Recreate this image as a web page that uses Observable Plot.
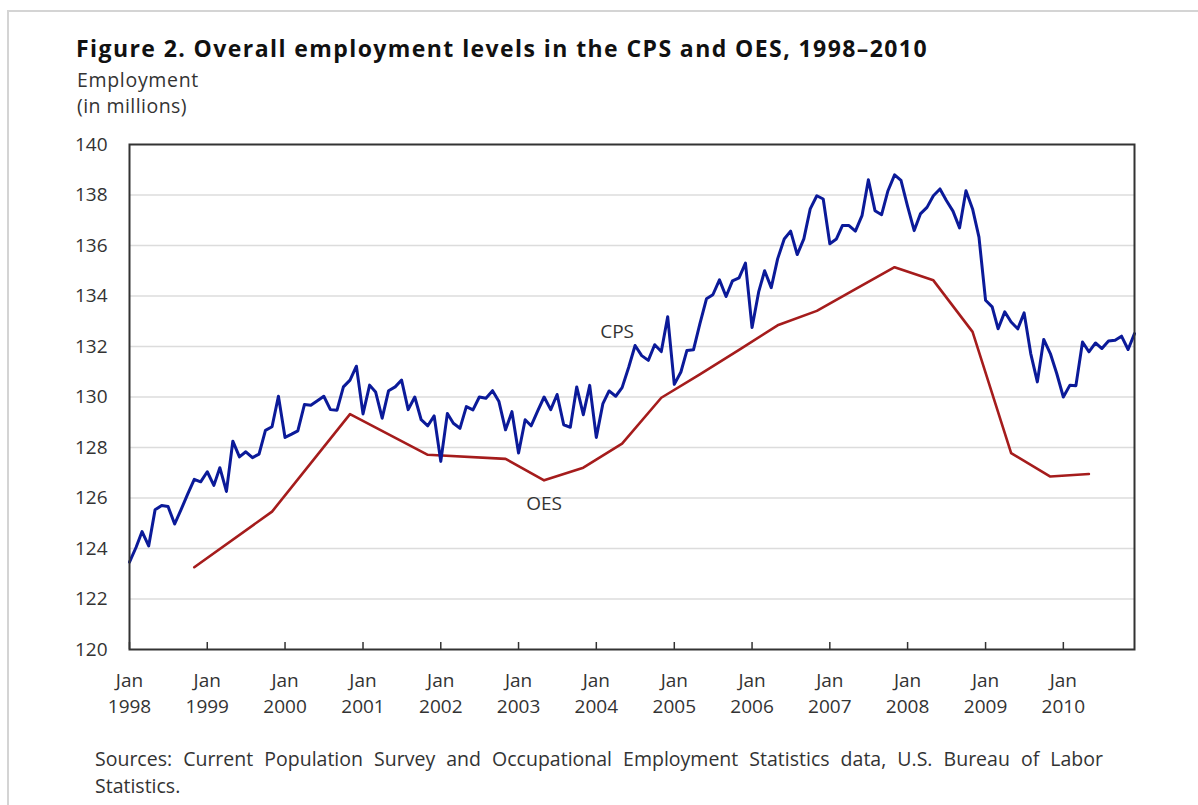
<!DOCTYPE html>
<html>
<head>
<meta charset="utf-8">
<script src="https://cdn.jsdelivr.net/npm/d3@7"></script>
<script src="https://cdn.jsdelivr.net/npm/@observablehq/plot@0.6"></script>
<style>
  html, body { margin: 0; padding: 0; background: #fff; overflow: hidden; }
  body { width: 1198px; height: 805px; position: relative; font-family: "Open Sans", sans-serif; color: #222; }
  .border { position: absolute; left: 7px; top: 10px; width: 1400px; height: 1000px; border-top: 2px solid #d4d4d4; border-left: 2px solid #d4d4d4; }
  .t { position: absolute; white-space: nowrap; line-height: 1; }
  #title { left: 76px; top: 37px; font-size: 23px; font-weight: 700; color: #111; }
  #ylab1 { left: 77px; top: 70px; font-size: 19.5px; color: #333; }
  #ylab2 { left: 77px; top: 96px; font-size: 19.5px; color: #333; }
  #src1 { left: 95px; top: 749px; font-size: 19.5px; color: #333; }
  #src2 { left: 95px; top: 776px; font-size: 19.5px; color: #333; }
  #chart { position: absolute; left: 0; top: 125px; }
</style>
</head>
<body>
<div class="border"></div>
<div class="t" id="title">Figure 2. Overall employment levels in the CPS and OES, 1998–2010</div>
<div class="t" id="ylab1">Employment</div>
<div class="t" id="ylab2">(in millions)</div>
<div id="chart"></div>
<div class="t" id="src1">Sources: Current Population Survey and Occupational Employment Statistics data, U.S. Bureau of Labor</div>
<div class="t" id="src2">Statistics.</div>
<script>
// ---- Data ----
const cpsStart = "1998-01";
const cpsValues = [
  123.46, 124.05, 124.67, 124.10, 125.53, 125.70, 125.66, 124.97, 125.56, 126.15, 126.74, 126.64,
  127.04, 126.50, 127.20, 126.26, 128.25, 127.63, 127.83, 127.60, 127.74, 128.68, 128.82, 130.03,
  128.40, 128.53, 128.66, 129.70, 129.67, 129.85, 130.03, 129.50, 129.48, 130.40, 130.67, 131.22,
  129.33, 130.47, 130.20, 129.16, 130.25, 130.40, 130.67, 129.50, 130.00, 129.10, 128.86, 129.25,
  127.45, 129.35, 128.96, 128.76, 129.62, 129.49, 130.00, 129.95, 130.25, 129.82, 128.70, 129.42,
  127.78, 129.10, 128.86, 129.45, 130.00, 129.50, 130.10, 128.90, 128.80, 130.40, 129.30, 130.46,
  128.40, 129.74, 130.24, 130.03, 130.37, 131.18, 132.04, 131.64, 131.45, 132.07, 131.80, 133.18,
  130.50, 130.99, 131.84, 131.87, 132.90, 133.89, 134.05, 134.64, 133.98, 134.60, 134.72, 135.30,
  132.75, 134.16, 135.00, 134.33, 135.47, 136.26, 136.57, 135.64, 136.26, 137.45, 137.97, 137.84,
  136.07, 136.26, 136.79, 136.79, 136.57, 137.18, 138.60, 137.38, 137.22, 138.17, 138.80, 138.58,
  137.55, 136.59, 137.25, 137.51, 137.97, 138.24, 137.78, 137.36, 136.70, 138.17, 137.45, 136.33,
  133.83, 133.57, 132.70, 133.37, 132.97, 132.70, 133.33, 131.72, 130.60, 132.28, 131.72, 130.93,
  130.00, 130.47, 130.45, 132.18, 131.79, 132.14, 131.92, 132.22, 132.25, 132.41, 131.88, 132.51
];
const oesDates = ["1998-11","1999-11","2000-11","2001-11","2002-11","2003-05","2003-11","2004-05",
  "2004-11","2005-05","2005-11","2006-05","2006-11","2007-05","2007-11","2008-05","2008-11",
  "2009-05","2009-11","2010-05"];
const oesValues = [123.26, 125.46, 129.32, 127.71, 127.55, 126.70, 127.20, 128.15,
  129.97, 130.90, 131.87, 132.84, 133.41, 134.27, 135.14, 134.62, 132.58,
  127.78, 126.85, 126.95];
const tickYears = [1998,1999,2000,2001,2002,2003,2004,2005,2006,2007,2008,2009,2010];
const tickMonthLabel = "Jan";
const yTicks = [120,122,124,126,128,130,132,134,136,138,140];
const seriesNames = ["CPS", "OES"];
const cpsLabelAt = "2004-07";
const oesLabelAt = "2003-05";

// ---- Build tables ----
const parse = d3.utcParse("%Y-%m");
const start = parse(cpsStart);
const cps = cpsValues.map((v, i) => ({date: d3.utcMonth.offset(start, i), value: v}));
const oes = oesDates.map((d, i) => ({date: parse(d), value: oesValues[i]}));
const yearDates = tickYears.map(y => new Date(Date.UTC(y, 0, 1)));
const fmtM = d3.utcFormat("%Y-%m");

const H = 605, MT = 19, MB = 81;
const innerH = H - MT - MB;

const chart = Plot.plot({
  width: 1198,
  height: H,
  marginTop: MT,
  marginBottom: MB,
  marginLeft: 129,
  marginRight: 64,
  x: {type: "utc", domain: [cps[0].date, cps[cps.length - 1].date], label: null},
  y: {domain: [120, 140], label: null},
  style: {fontFamily: "'Open Sans', sans-serif", fontSize: "19px", color: "#333", background: "transparent"},
  marks: [
    Plot.ruleY(yTicks.filter(v => v > 120 && v < 140), {stroke: "#dcdcdc", strokeWidth: 1.6}),
    Plot.line(oes, {x: "date", y: "value", stroke: "#a51c1c", strokeWidth: 2.6, strokeLinejoin: "round"}),
    Plot.line(cps, {x: "date", y: "value", stroke: "#0b1a99", strokeWidth: 3, strokeLinejoin: "round"}),
    Plot.text(cps.filter(d => fmtM(d.date) === cpsLabelAt), {x: "date", y: "value", text: () => seriesNames[0], dx: -18, dy: -14, fill: "#333", fontSize: 19}),
    Plot.text(oes.filter(d => fmtM(d.date) === oesLabelAt), {x: "date", y: "value", text: () => seriesNames[1], dy: 24, fill: "#333", fontSize: 19}),
    Plot.frame({stroke: "#333", strokeWidth: 2}),
    Plot.tickX(yearDates, {x: d => d, stroke: "#333", strokeWidth: 1.5, insetTop: innerH - 7}),
    Plot.axisY(yTicks, {tickSize: 0, tickPadding: 22, fill: "#333", fontSize: 19, label: null}),
    Plot.axisX(yearDates, {tickSize: 0, tickPadding: 24, tickFormat: () => tickMonthLabel, fill: "#333", fontSize: 19, label: null}),
    Plot.axisX(yearDates, {tickSize: 0, tickPadding: 50, tickFormat: d => String(d.getUTCFullYear()), fill: "#333", fontSize: 19, label: null})
  ]
});
document.getElementById("chart").appendChild(chart);

// fit text widths to the reference
function fit(id, target, mode) {
  const el = document.getElementById(id);
  const w = el.getBoundingClientRect().width;
  if (mode === "word") {
    const n = el.textContent.split(" ").length - 1;
    el.style.wordSpacing = ((target - w) / n) + "px";
  } else {
    const n = el.textContent.length;
    el.style.letterSpacing = ((target - w) / n) + "px";
  }
}
fit("title", 852, "letter");
fit("ylab1", 122, "letter");
fit("ylab2", 110, "letter");
fit("src1", 1008, "word");
</script>
</body>
</html>
